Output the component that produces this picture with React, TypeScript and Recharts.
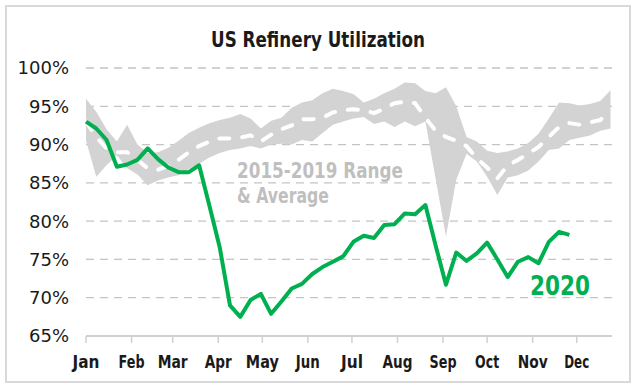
import { ComposedChart, Area, Line, XAxis, YAxis, CartesianGrid } from "recharts";

const MONTHS = ["Jan", "Feb", "Mar", "Apr", "May", "Jun", "Jul", "Aug", "Sep", "Oct", "Nov", "Dec"];
const MONTH_START_DAYS = [0, 31, 59, 90, 120, 151, 181, 212, 243, 273, 304, 334];
const Y_TICKS = [65, 70, 75, 80, 85, 90, 95, 100];

// 2015-2019 weekly min / max / average (percent)
const rangeMin = [
  90.5, 85.8, 87.3, 88.6, 86.9, 86.1, 84.7, 85.3, 85.7, 86.0, 86.8, 87.5, 88.3, 88.9, 89.3, 89.5,
  89.8, 89.5, 90.0, 90.1, 90.0, 90.6, 90.4, 91.5, 92.6, 93.0, 93.4, 93.6, 92.7, 93.0, 92.3, 93.0,
  92.4, 93.0, 85.5, 78.0, 85.4, 88.8, 87.8, 85.8, 83.4, 85.7, 86.0, 86.6, 87.8, 89.3, 89.5, 90.6,
  90.9, 91.2, 91.8, 92.1,
];
const rangeMax = [
  96.0, 94.3, 92.0, 90.4, 92.6, 90.0, 88.9, 89.0, 89.6, 90.5, 91.5, 92.2, 92.8, 93.2, 93.5, 94.0,
  93.4, 92.1, 93.1, 93.5, 94.8, 95.5, 95.8, 96.7, 97.3, 97.0, 96.6, 95.5, 96.0, 96.7, 97.3, 98.1,
  98.0, 97.0, 96.7, 97.5, 95.0, 91.0, 90.4, 89.2, 88.9, 89.1, 89.5, 90.2, 91.4, 93.4, 95.5, 95.4,
  95.1, 95.3, 95.7, 97.1,
];
const rangeAvg = [
  93.0, 91.0, 89.5, 89.0, 89.0, 88.0, 86.9, 86.7, 87.2, 88.0, 89.0, 89.8, 90.4, 90.8, 90.8, 90.9,
  91.2, 90.4, 91.3, 92.0, 92.5, 93.3, 93.3, 93.5, 94.2, 94.5, 94.6, 94.5, 94.1, 94.7, 95.4, 95.6,
  95.4, 93.5, 91.8, 91.0, 90.5, 89.8, 88.2, 87.0, 85.6, 87.3, 88.0, 88.8, 89.7, 91.0, 92.3, 92.8,
  92.6, 92.9, 93.2, 94.5,
];
// 2020 weekly utilization (percent)
const util2020 = [
  93.0, 92.1, 90.6, 87.1, 87.4, 88.0, 89.5, 88.1, 87.0, 86.4, 86.4, 87.3, 82.0, 76.6, 69.0, 67.5,
  69.7, 70.5, 67.9, 69.5, 71.2, 71.8, 73.1, 74.0, 74.7, 75.4, 77.3, 78.1, 77.8, 79.5, 79.6, 81.0,
  80.9, 82.1, 76.8, 71.7, 75.9, 74.8, 75.8, 77.2, 75.0, 72.7, 74.7, 75.3, 74.5, 77.3, 78.6, 78.2,
];

const data = rangeMin.map((lo, i) => ({
  day: i * 7,
  range: [lo, rangeMax[i]],
  avg: rangeAvg[i],
  y2020: i < util2020.length ? util2020[i] : null,
}));

const FONT = "'DejaVu Sans', sans-serif";
// approximate rendered widths of the condensed month labels
const MONTH_WIDTHS = [27, 26, 30, 27, 33, 24, 22, 30, 27, 24, 30, 25];

const MonthTick = (props: any) => {
  const { x, y, payload } = props;
  const idx = MONTH_START_DAYS.indexOf(payload.value);
  return (
    <text
      x={x}
      y={y}
      dy="0.71em"
      textAnchor="middle"
      fill="#1a1a1a"
      fontSize={18}
      fontWeight={700}
      fontFamily={FONT}
      textLength={MONTH_WIDTHS[idx]}
      lengthAdjust="spacingAndGlyphs"
    >
      {MONTHS[idx]}
    </text>
  );
};

const App = () => {
  return (
    <div style={{ position: "absolute", left: 0, top: 0, width: 636, height: 388, background: "#fff" }}>
      <div
        style={{
          position: "absolute",
          left: 5,
          top: 5,
          width: 622,
          height: 374,
          border: "2px solid #d9d9d9",
        }}
      />
      <ComposedChart
        width={636}
        height={388}
        data={data}
        margin={{ top: 68, right: 24, bottom: 22, left: 0 }}
      >
        <CartesianGrid vertical={false} stroke="#c4c4c4" strokeWidth={1.3} strokeDasharray="8 6" />
        <XAxis
          type="number"
          dataKey="day"
          domain={[0, 358]}
          ticks={MONTH_START_DAYS}
          height={30}
          axisLine={{ stroke: "#d0d0d0", strokeWidth: 2 }}
          tickLine={{ stroke: "#d0d0d0", strokeWidth: 1.5 }}
          tickSize={7}
          tickMargin={12}
          tick={<MonthTick />}
          interval={0}
        />
        <YAxis
          type="number"
          domain={[65, 100]}
          ticks={Y_TICKS}
          width={86}
          axisLine={false}
          tickLine={false}
          tickSize={6}
          tickMargin={11}
          tickFormatter={(v: number) => `${v}%`}
          tick={{ fill: "#1a1a1a", fontSize: 18, fontFamily: FONT }}
        />
        <Area
          dataKey="range"
          stroke="none"
          fill="#d3d3d3"
          fillOpacity={1}
          isAnimationActive={false}
          dot={false}
          activeDot={false}
        />
        <Line
          dataKey="avg"
          stroke="#ffffff"
          strokeWidth={4}
          strokeDasharray="10 13"
          strokeLinecap="round"
          dot={false}
          isAnimationActive={false}
        />
        <Line
          dataKey="y2020"
          stroke="#00b050"
          strokeWidth={4}
          strokeLinejoin="round"
          dot={false}
          isAnimationActive={false}
        />
      </ComposedChart>
      <svg
        width={636}
        height={388}
        style={{ position: "absolute", left: 0, top: 0, pointerEvents: "none" }}
      >
        <text x={211} y={47} fill="#1a1a1a" fontSize={22} fontWeight={700} fontFamily={FONT} textLength={214} lengthAdjust="spacingAndGlyphs">
          US Refinery Utilization
        </text>
        <text x={237} y={178} fill="#bfbfbf" fontSize={21} fontWeight={700} fontFamily={FONT} textLength={166} lengthAdjust="spacingAndGlyphs">
          2015-2019 Range
        </text>
        <text x={237} y={203} fill="#bfbfbf" fontSize={21} fontWeight={700} fontFamily={FONT} textLength={92} lengthAdjust="spacingAndGlyphs">
          &amp; Average
        </text>
        <text x={530} y={295} fill="#00b050" fontSize={27} fontWeight={700} fontFamily={FONT} textLength={60} lengthAdjust="spacingAndGlyphs">
          2020
        </text>
      </svg>
    </div>
  );
};

export default App;
